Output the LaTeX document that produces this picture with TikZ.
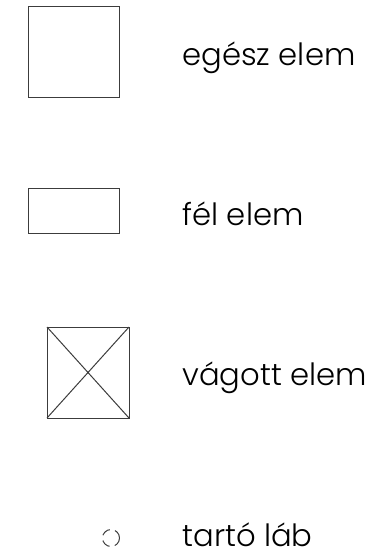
\documentclass[tikz,border=0pt]{standalone}
\usepackage{fontspec}
\setmainfont{Poppins}[UprightFont=* Light]
\tikzset{every picture/.style={line width=0.75pt}}
\tikzset{
  elembox/.style={draw={rgb, 255:red, 60; green, 60; blue, 60 }},
  legendtext/.style={anchor=base west, inner sep=0pt, font=\fontsize{23}{27}\selectfont}
}

\begin{document}
\begin{tikzpicture}[x=0.75pt,y=0.75pt,yscale=-1,xscale=1]
\useasboundingbox (0,0) rectangle (378,558);

%Shape: Square [id:whole]
\draw  [elembox] (28.5,6.5) rectangle (119.5,97.5) ;
%Shape: Rectangle [id:half]
\draw  [elembox] (28.5,188.5) rectangle (119.5,233.5) ;
%Shape: Square [id:cut]
\draw  [elembox] (47,327) rectangle (129,418) ;
%Straight Lines [id:cut diagonals]
\draw  [elembox] (47,327) -- (129,418) (129,327) -- (47,418) ;
%Shape: Circle [id:foot]
\draw  [elembox, dash pattern={on 7pt off 4pt}] (111,538) circle (8.5) ;

%Text labels
\node [legendtext] (lblWhole) at (182,65.7) {egész elem};
\node [legendtext] (lblHalf) at (182,225) {fél elem};
\node [legendtext] (lblCut) at (182,385.7) {vágott elem};
\node [legendtext] (lblFoot) at (182,546.7) {tartó láb};

\end{tikzpicture}
\end{document}
